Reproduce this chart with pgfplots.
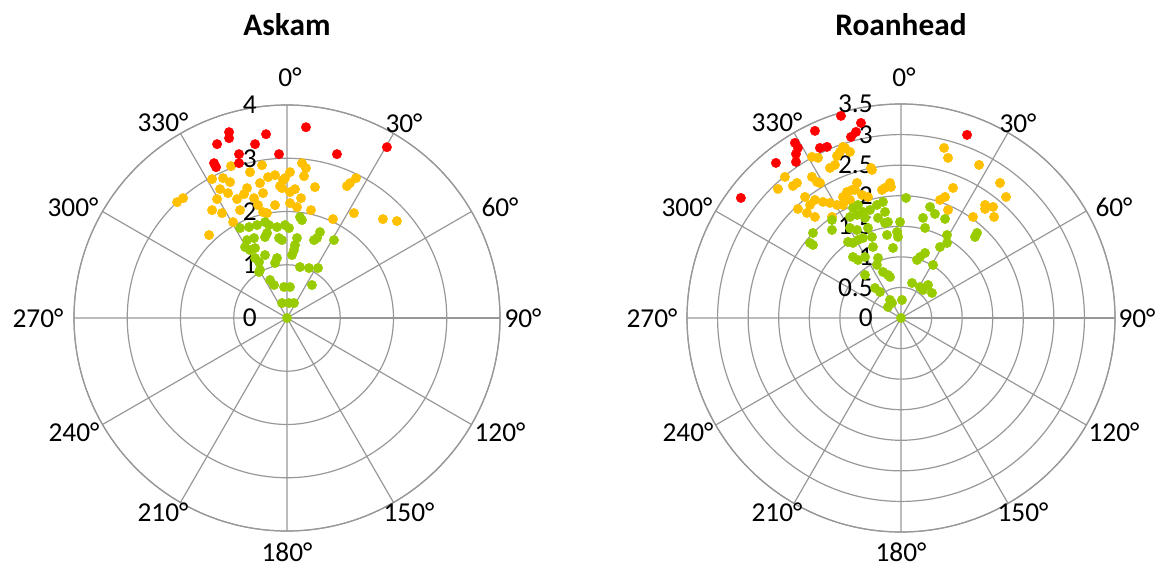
\documentclass[border=0pt]{standalone}
\usepackage{pgfplots}
\pgfplotsset{compat=1.18}
\usepgfplotslibrary{polar}
\usepackage{fontspec}
\setmainfont{Carlito}
\definecolor{gridc}{HTML}{989898}
\definecolor{cred}{HTML}{FF0000}
\definecolor{corange}{HTML}{FFC000}
\definecolor{cgreen}{HTML}{99CC00}
\newcommand{\lblfont}{\fontsize{20.5}{23}\selectfont}
\pgfplotsset{
 mypolar/.style={
  scale only axis, width=319.5pt, height=319.5pt,
  anchor=center,
  xtick={0,30,...,330},
  xticklabels={},
  yticklabels={},
  grid=major,
  major grid style={draw=gridc, line width=0.9pt},
  axis line style={draw=gridc, line width=0.9pt},
  major tick length=0pt,
  tick style={draw=none},
  clip=false,
 },
 dots/.style={only marks, mark=*, mark size=3.5pt, mark options={fill=#1, draw=#1}, data cs=cart},
}
% compass angle labels: centre offset (px right, px down) from the chart centre
\newcommand{\anglelabels}{%
  \foreach \a/\dx/\dy in {0/3/-241,30/117/-195,60/213/-111,90/236/0,120/213/114,150/122/194,180/0/234,210/-124/194,240/-213/114,270/-249/0,300/-214/-111,330/-124/-196}{
    \pgfmathsetmacro{\sx}{0.75*\dx}
    \pgfmathsetmacro{\sy}{-0.75*\dy}
    \edef\tmp{\noexpand\node[anchor=center, inner sep=0pt, xshift=\sx pt, yshift=\sy pt, font=\noexpand\lblfont] at (axis cs:0,0) {\a°};}
    \tmp
  }
}
\begin{document}
\begin{tikzpicture}
% ---------------- Askam ----------------
\begin{polaraxis}[mypolar, at={(215.25pt,188.25pt)}, ymin=0, ymax=4, ytick={0,1,2,3,4}]
\addplot[dots=corange] coordinates {
(-0.469,2.870) (-0.694,2.739) (-1.051,2.852) (-1.407,2.608) (-1.201,2.627)
(-1.069,2.552) (-1.257,2.420) (-1.107,2.345) (-2.064,2.176) (-1.951,2.251)
(-1.313,2.233) (-1.407,2.026) (-1.220,1.970) (-1.013,1.801) (-1.463,1.557)
(-0.750,2.439) (-0.507,2.533) (-0.356,2.645) (-0.225,2.683) (-0.038,2.627)
(-0.131,2.477) (-0.450,2.345) (-0.619,2.251) (-0.938,2.233) (-0.882,2.026)
(-0.544,2.120) (-0.225,2.120) (-0.450,1.989) (-0.375,1.970) (0.281,2.908)
(0.356,2.814) (0.319,2.664) (0.056,2.739) (-0.075,2.589) (0.150,2.420)
(0.056,2.364) (0.525,2.458) (1.295,2.627) (1.182,2.533) (1.126,2.477)
(0.263,2.251) (0.056,2.158) (0.188,2.083) (0.450,2.026) (1.257,1.970)
(0.863,1.857) (1.801,1.857) (2.064,1.820) (-0.094,2.439) (-0.807,2.326)
};
\addplot[dots=cgreen] coordinates {
(0.244,1.895) (0.281,1.839) (-0.713,1.707) (-0.563,1.745) (-0.413,1.801)
(-0.338,1.745) (-0.188,1.707) (-0.038,1.745) (0.038,1.689) (-0.413,1.520)
(-0.375,1.595) (-0.619,1.501) (-0.750,1.463) (-0.150,1.501) (-0.094,1.463)
(0.188,1.501) (0.619,1.613) (0.563,1.501) (0.507,1.463) (0.882,1.463)
(-0.788,1.332) (-0.600,1.313) (0.131,1.276) (0.094,1.182) (-0.413,1.182)
(-0.188,1.126) (-0.225,1.032) (-0.600,1.126) (-0.525,1.051) (-0.507,0.901)
(-0.525,0.863) (0.244,0.957) (0.413,0.938) (0.582,0.938) (-0.319,0.713)
(-0.244,0.619) (-0.056,0.582) (0.056,0.582) (0.469,0.619) (-0.094,0.281)
(0.038,0.281) (0.131,0.281) (0,0) (0.150,1.370) (-0.882,1.689) (-0.694,1.276)
};
\addplot[dots=cred] coordinates {
(-1.088,3.490) (-1.088,3.377) (-1.313,3.265) (-0.394,3.452) (-0.600,3.265)
(-0.901,3.077) (-0.901,2.908) (-1.370,2.908) (-1.332,2.833) (-0.150,3.077)
(0.356,3.583) (0.938,3.077) (1.876,3.208)
};
\foreach \r in {0,1,2,3,4}{
  \edef\tmp{\noexpand\node[anchor=east, inner sep=0pt, xshift=-22.5pt, font=\noexpand\lblfont] at (axis cs:90,\r) {\r};}
  \tmp
}
\anglelabels
\end{polaraxis}
\node[font=\bfseries\fontsize{23.5}{26}\selectfont] at (215.25pt,408pt) {Askam};
% ---------------- Roanhead ----------------
\begin{polaraxis}[mypolar, width=321pt, height=321pt, at={(675.75pt,188.25pt)}, ymin=0, ymax=3.5, ytick={0,0.5,1,1.5,2,2.5,3,3.5}]
\addplot[dots=corange] coordinates {
(-0.949,2.799) (-0.998,2.717) (-1.047,2.651) (-0.835,2.717) (-1.457,2.635)
(-1.358,2.619) (-1.080,2.504) (-1.162,2.455) (-1.899,2.308) (-1.702,2.209)
(-1.768,2.160) (-2.013,2.111) (-1.457,2.308) (-1.375,2.226) (-1.326,2.209)
(-0.720,2.209) (-0.180,2.209) (-0.311,2.095) (-0.884,2.062) (-0.802,2.095)
(-1.571,1.980) (-1.408,1.931) (-1.489,1.849) (-1.277,1.899) (-1.162,1.882)
(-1.047,1.849) (-0.949,1.849) (-0.835,1.931) (-0.949,1.980) (-1.686,1.784)
(-1.538,1.718) (-1.408,1.653) (-0.540,1.980) (-0.491,2.455) (-0.917,2.782)
(-0.475,2.422) (-0.262,2.128) (0.704,2.782) (0.769,2.619) (1.277,2.504)
(1.620,2.209) (1.718,1.980) (0.851,2.128) (0.720,1.980) (0.638,1.931)
(1.375,1.849) (1.506,1.817) (1.375,1.784) (1.522,1.653) (1.178,1.653)
(-0.753,2.095) (-0.638,2.013) (-1.129,1.653) (0.769,1.768) (-0.164,2.144)
};
\addplot[dots=cgreen] coordinates {
(0.082,1.964) (-0.786,1.800) (-0.704,1.849) (-0.622,1.735) (-0.720,1.686)
(-0.835,1.653) (-0.589,1.637) (-0.507,1.768) (-0.393,1.849) (-0.295,1.899)
(-0.262,1.735) (-0.376,1.637) (-0.262,1.555) (-0.213,1.571) (-1.129,1.604)
(-1.129,1.440) (-1.440,1.391) (-1.489,1.227) (-1.440,1.195) (-0.835,1.473)
(-0.720,1.440) (-0.540,1.473) (-0.475,1.326) (-0.622,1.309) (-0.704,1.277)
(-0.867,1.244) (-0.786,1.227) (-0.016,1.571) (-0.065,1.408) (-0.049,1.326)
(-0.229,1.358) (-0.131,1.146) (-0.458,1.162) (-0.376,0.982) (-0.393,0.867)
(-0.295,0.753) (-0.213,0.704) (-0.180,0.671) (-0.786,0.998) (-0.704,0.949)
(-0.589,0.998) (-0.589,0.704) (-0.344,0.426) (-0.426,0.491) (-0.180,0.295)
(-0.147,0.245) (-0.213,0.180) (0.016,0.295) (0,0) (0.180,0.573)
(0.311,0.507) (0.360,0.458) (0.442,0.540) (0.507,0.409) (0.524,0.867)
(0.262,0.949) (0.311,0.998) (0.393,1.064) (0.393,1.473) (0.360,1.637)
(0.475,1.817) (0.556,1.702) (0.720,1.620) (0.753,1.358) (0.638,1.162)
(0.753,1.227) (1.244,1.391) (1.211,1.326)
};
\addplot[dots=cred] coordinates {
(-2.619,1.964) (-2.046,2.537) (-1.735,2.864) (-1.686,2.782) (-1.718,2.684)
(-1.718,2.553) (-1.408,3.061) (-1.326,2.782) (-1.211,2.799) (-0.982,3.306)
(-0.818,2.962) (-0.736,3.044) (-0.655,3.191) (1.080,2.995)
};
\foreach \r in {0,0.5,1,1.5,2,2.5,3,3.5}{
  \edef\tmp{\noexpand\node[anchor=east, inner sep=0pt, xshift=-21pt, font=\noexpand\lblfont] at (axis cs:90,\r) {\r};}
  \tmp
}
\anglelabels
\end{polaraxis}
\node[font=\bfseries\fontsize{23.5}{26}\selectfont] at (675.75pt,408pt) {Roanhead};
\pgfresetboundingbox
\useasboundingbox (0,0) rectangle (871.5pt,426.75pt);
\end{tikzpicture}
\end{document}
